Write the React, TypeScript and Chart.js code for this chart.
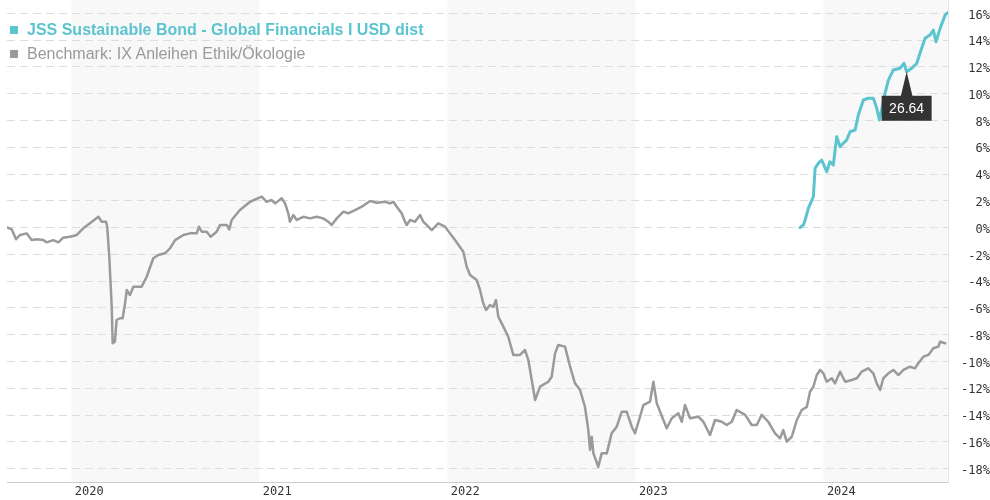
import React, { useEffect, useRef } from 'react';
import { Chart, registerables } from 'chart.js';

Chart.register(...registerables);

const FUND_NAME = 'JSS Sustainable Bond - Global Financials I USD dist';
const BENCH_NAME = 'Benchmark: IX Anleihen Ethik/Ökologie';
const FUND_COLOR = '#5bc4cf';
const BENCH_COLOR = '#9a9a9a';

const YEARS = [2020, 2021, 2022, 2023, 2024];
const SHADED_YEARS = [2020, 2022, 2024];
const X_MIN = 2019.658;
const X_MAX = 2024.663;
const Y_MIN = -19;
const Y_MAX = 17;
const Y_TICKS = [-18, -16, -14, -12, -10, -8, -6, -4, -2, 0, 2, 4, 6, 8, 10, 12, 14, 16];

const TOOLTIP_T = 2024.443;
const TOOLTIP_TEXT = '26.64';

const FUND_T = [
  2023.876, 2023.894, 2023.903, 2023.92, 2023.947, 2023.956, 2023.973, 2023.991, 2024.018, 2024.035,
  2024.053, 2024.071, 2024.089, 2024.106, 2024.124, 2024.142, 2024.169, 2024.186, 2024.213, 2024.239,
  2024.266, 2024.284, 2024.298, 2024.328, 2024.346, 2024.372, 2024.408, 2024.429, 2024.443, 2024.47,
  2024.497, 2024.514, 2024.541, 2024.567, 2024.585, 2024.599, 2024.621, 2024.648, 2024.66,
];
const FUND_V = [
  0.0, 0.19, 0.57, 1.44, 2.31, 4.43, 4.8, 5.05, 4.17, 4.92,
  4.68, 6.79, 6.04, 6.3, 6.54, 7.16, 7.29, 8.41, 9.53, 9.66,
  9.66, 8.91, 8.04, 10.03, 11.02, 11.77, 11.9, 12.27, 11.64, 11.9,
  12.27, 13.02, 14.14, 14.38, 14.76, 13.88, 14.88, 15.88, 16.05,
];

const BENCH_T = [
  2019.66, 2019.683, 2019.706, 2019.727, 2019.763, 2019.789, 2019.816, 2019.851, 2019.869, 2019.904,
  2019.931, 2019.957, 2019.993, 2020.029, 2020.064, 2020.099, 2020.144, 2020.162, 2020.185, 2020.191,
  2020.202, 2020.215, 2020.22, 2020.232, 2020.241, 2020.259, 2020.273, 2020.286, 2020.295, 2020.312,
  2020.33, 2020.374, 2020.401, 2020.436, 2020.463, 2020.498, 2020.525, 2020.552, 2020.596, 2020.631,
  2020.667, 2020.679, 2020.694, 2020.72, 2020.741, 2020.773, 2020.791, 2020.827, 2020.84, 2020.853,
  2020.897, 2020.951, 2021.013, 2021.039, 2021.066, 2021.084, 2021.119, 2021.137, 2021.154, 2021.163,
  2021.181, 2021.199, 2021.234, 2021.27, 2021.305, 2021.34, 2021.367, 2021.385, 2021.412, 2021.447,
  2021.473, 2021.509, 2021.545, 2021.589, 2021.624, 2021.669, 2021.695, 2021.713, 2021.731, 2021.757,
  2021.775, 2021.784, 2021.802, 2021.828, 2021.855, 2021.872, 2021.899, 2021.917, 2021.952, 2021.988,
  2022.014, 2022.041, 2022.085, 2022.103, 2022.121, 2022.156, 2022.174, 2022.191, 2022.206, 2022.227,
  2022.245, 2022.259, 2022.271, 2022.298, 2022.324, 2022.351, 2022.387, 2022.413, 2022.431, 2022.449,
  2022.467, 2022.493, 2022.537, 2022.555, 2022.573, 2022.59, 2022.626, 2022.653, 2022.679, 2022.706,
  2022.732, 2022.75, 2022.759, 2022.768, 2022.777, 2022.803, 2022.821, 2022.848, 2022.874, 2022.901,
  2022.928, 2022.954, 2022.981, 2022.998, 2023.025, 2023.043, 2023.078, 2023.096, 2023.114, 2023.149,
  2023.167, 2023.194, 2023.229, 2023.247, 2023.264, 2023.291, 2023.335, 2023.362, 2023.397, 2023.424,
  2023.46, 2023.486, 2023.513, 2023.539, 2023.584, 2023.619, 2023.646, 2023.672, 2023.707, 2023.743,
  2023.77, 2023.787, 2023.805, 2023.832, 2023.859, 2023.885, 2023.912, 2023.929, 2023.947, 2023.965,
  2023.983, 2024.0, 2024.018, 2024.045, 2024.062, 2024.089, 2024.116, 2024.151, 2024.178, 2024.204,
  2024.239, 2024.266, 2024.284, 2024.302, 2024.319, 2024.346, 2024.372, 2024.399, 2024.426, 2024.461,
  2024.487, 2024.505, 2024.532, 2024.559, 2024.585, 2024.612, 2024.621, 2024.648,
];
const BENCH_V = [
  0.0, -0.13, -0.87, -0.55, -0.43, -0.93, -0.87, -0.93, -1.1, -0.93,
  -1.1, -0.75, -0.68, -0.55, -0.05, 0.32, 0.81, 0.44, 0.44, 0.07,
  -2.17, -5.91, -8.64, -8.52, -6.9, -6.77, -6.77, -5.65, -4.66, -5.03,
  -4.41, -4.41, -3.67, -2.29, -2.05, -1.92, -1.55, -0.93, -0.55, -0.43,
  -0.43, 0.07, -0.31, -0.31, -0.68, -0.31, 0.19, 0.19, -0.13, 0.57,
  1.31, 1.93, 2.31, 1.93, 2.06, 1.81, 2.19, 1.81, 1.07, 0.44,
  0.94, 0.57, 0.81, 0.69, 0.81, 0.69, 0.44, 0.19, 0.69, 1.19,
  1.07, 1.31, 1.56, 1.99, 1.86, 1.93, 1.81, 1.93, 1.56, 1.07,
  0.44, 0.19, 0.57, 0.44, 0.94, 0.44, 0.07, -0.18, 0.32, 0.07,
  -0.43, -0.93, -1.8, -2.92, -3.54, -3.91, -4.66, -5.65, -6.15, -5.78,
  -5.91, -5.41, -6.65, -7.4, -8.15, -9.51, -9.51, -9.14, -9.89, -11.38,
  -12.88, -11.88, -11.51, -11.14, -9.39, -8.77, -8.89, -10.39, -11.63, -12.13,
  -13.38, -15.12, -16.61, -15.62, -16.86, -17.86, -16.86, -16.86, -15.36, -14.87,
  -13.75, -13.75, -14.87, -15.36, -14.12, -13.25, -13.0, -11.51, -13.12, -14.37,
  -14.99, -14.24, -13.87, -14.5, -13.25, -14.24, -14.12, -14.5, -15.49, -14.37,
  -14.5, -14.74, -14.5, -13.62, -13.99, -14.74, -14.74, -13.99, -14.5, -15.36,
  -15.74, -15.12, -15.99, -15.62, -14.37, -13.62, -13.39, -12.26, -11.88, -11.01,
  -10.63, -10.88, -11.51, -11.25, -11.63, -10.76, -11.51, -11.38, -11.25, -10.76,
  -10.51, -10.88, -11.63, -12.13, -11.25, -10.88, -10.63, -11.01, -10.63, -10.39,
  -10.51, -10.13, -9.64, -9.51, -9.01, -8.89, -8.52, -8.64,
];

const bandsPlugin = {
  id: 'yearBands',
  beforeDraw(chart: any) {
    const { ctx, chartArea, scales } = chart;
    const x = scales.x;
    ctx.save();
    ctx.fillStyle = '#f8f8f8';
    SHADED_YEARS.forEach((yr) => {
      const x1 = Math.max(x.getPixelForValue(yr), chartArea.left);
      const x2 = Math.min(x.getPixelForValue(yr + 1), chartArea.right);
      if (x2 > x1) ctx.fillRect(x1, chartArea.top, x2 - x1, chartArea.bottom - chartArea.top);
    });
    ctx.restore();
  },
};

const tooltipPlugin = {
  id: 'fixedTooltip',
  afterDatasetsDraw(chart: any) {
    const { ctx } = chart;
    const idx = FUND_T.indexOf(TOOLTIP_T);
    const el = chart.getDatasetMeta(0).data[idx];
    if (!el) return;
    const px = el.x;
    const py = el.y;
    const triH = 24;
    const triW = 6;
    const boxW = 50;
    const boxH = 25;
    ctx.save();
    ctx.fillStyle = '#333333';
    ctx.beginPath();
    ctx.moveTo(px, py);
    ctx.lineTo(px - triW, py + triH + 1);
    ctx.lineTo(px + triW, py + triH + 1);
    ctx.closePath();
    ctx.fill();
    ctx.fillRect(px - boxW / 2, py + triH, boxW, boxH);
    ctx.fillStyle = '#ffffff';
    ctx.font = '14px "Liberation Sans", Arial, sans-serif';
    ctx.textAlign = 'center';
    ctx.textBaseline = 'middle';
    ctx.fillText(TOOLTIP_TEXT, px, py + triH + boxH / 2 + 1);
    ctx.restore();
  },
};

export default function App() {
  const ref = useRef<HTMLCanvasElement | null>(null);

  useEffect(() => {
    if (!ref.current) return;
    const chart = new Chart(ref.current, {
      type: 'line',
      data: {
        datasets: [
          {
            label: FUND_NAME,
            data: FUND_T.map((t, i) => ({ x: t, y: FUND_V[i] })),
            borderColor: FUND_COLOR,
            borderWidth: 3,
            pointRadius: 0,
            tension: 0,
            borderJoinStyle: 'round',
            borderCapStyle: 'round',
          },
          {
            label: BENCH_NAME,
            data: BENCH_T.map((t, i) => ({ x: t, y: BENCH_V[i] })),
            borderColor: BENCH_COLOR,
            borderWidth: 2.5,
            pointRadius: 0,
            tension: 0,
            borderJoinStyle: 'round',
            borderCapStyle: 'round',
          },
        ],
      },
      options: {
        animation: false,
        responsive: false,
        devicePixelRatio: 1,
        layout: { padding: { left: 7, top: 0, right: 0, bottom: 0 }, autoPadding: false },
        plugins: {
          legend: { display: false },
          tooltip: { enabled: false },
        },
        scales: {
          x: {
            type: 'linear',
            min: X_MIN,
            max: X_MAX,
            afterBuildTicks: (scale: any) => {
              scale.ticks = YEARS.map((v) => ({ value: v }));
            },
            afterFit: (scale: any) => {
              scale.height = 18;
              scale.paddingLeft = 0;
              scale.paddingRight = 0;
            },
            grid: { display: false, drawTicks: false },
            border: { display: true, color: '#cccccc', width: 1 },
            ticks: {
              callback: (v: any) => String(v),
              color: '#333333',
              font: { family: '"DejaVu Sans Mono", monospace', size: 12 },
              padding: 3,
              labelOffset: 18,
              maxRotation: 0,
              autoSkip: false,
            },
          },
          y: {
            type: 'linear',
            position: 'right',
            min: Y_MIN,
            max: Y_MAX,
            afterBuildTicks: (scale: any) => {
              scale.ticks = Y_TICKS.map((v) => ({ value: v }));
            },
            afterFit: (scale: any) => {
              scale.width = 42;
              scale.paddingTop = 0;
              scale.paddingBottom = 0;
            },
            grid: { color: '#dddddd', lineWidth: 1, drawTicks: false },
            border: { display: true, color: '#e6e6e6', width: 1, dash: [8, 5] },
            ticks: {
              callback: (v: any) => v + '%',
              color: '#333333',
              font: { family: '"DejaVu Sans Mono", monospace', size: 12 },
              crossAlign: 'far',
              padding: 4,
              labelOffset: 2,
              autoSkip: false,
            },
          },
        },
      },
      plugins: [bandsPlugin, tooltipPlugin],
    } as any);
    return () => chart.destroy();
  }, []);

  const rowStyle: React.CSSProperties = {
    display: 'flex',
    alignItems: 'center',
    height: 24,
    whiteSpace: 'nowrap',
    fontFamily: '"Liberation Sans", Arial, sans-serif',
    fontSize: 16,
  };
  const sq = (c: string): React.CSSProperties => ({
    width: 8,
    height: 8,
    background: c,
    marginRight: 9,
    flex: '0 0 auto',
  });

  return (
    <div style={{ position: 'absolute', left: 0, top: 0, width: 990, height: 500, background: '#ffffff' }}>
      <canvas ref={ref} width={990} height={500} style={{ display: 'block' }} />
      <div style={{ position: 'absolute', left: 10, top: 18 }}>
        <div style={{ ...rowStyle, color: FUND_COLOR, fontWeight: 'bold' }}>
          <span style={sq(FUND_COLOR)} />
          <span>{FUND_NAME}</span>
        </div>
        <div style={{ ...rowStyle, color: BENCH_COLOR }}>
          <span style={sq(BENCH_COLOR)} />
          <span>{BENCH_NAME}</span>
        </div>
      </div>
    </div>
  );
}
